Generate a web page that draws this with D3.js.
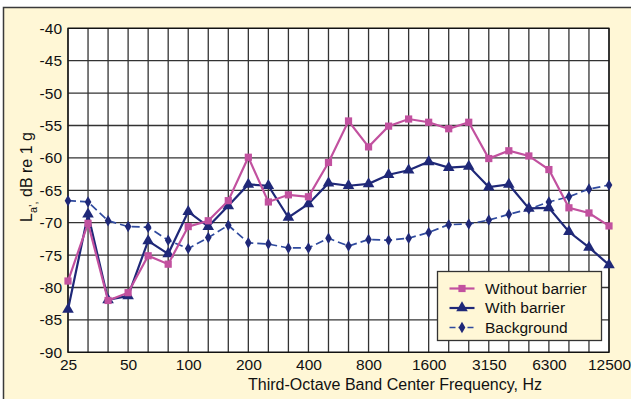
<!DOCTYPE html>
<html>
<head>
<meta charset="utf-8">
<script src="https://cdn.jsdelivr.net/npm/d3@7"></script>
<style>
  body { margin: 0; background: #fff; }
  svg { display: block; font-family: "Liberation Sans", Arial, sans-serif; }
</style>
</head>
<body>
<div id="canvas"></div>
<script>
// third-octave band centres, Hz
var bands = ['25','31.5','40','50','63','80','100','125','160','200','250','315','400','500',
             '630','800','1000','1250','1600','2000','2500','3150','4000','5000','6300','8000','10000','12500'];

// only every third band gets a label
var bandLabels = ['25','50','100','200','400','800','1600','3150','6300','12500'];

var yTicks = [-90,-85,-80,-75,-70,-65,-60,-55,-50,-45,-40];

// La', dB re 1 g
var withoutBarrier = [-79.0,-70.1,-82.0,-80.8,-75.1,-76.4,-70.6,-69.7,-66.6,-59.9,-66.8,-65.7,-66.0,-60.7,
                      -54.3,-58.3,-55.1,-54.0,-54.5,-55.5,-54.5,-60.1,-58.9,-59.7,-61.8,-67.7,-68.5,-70.5];
var withBarrier = [-83.4,-68.7,-81.9,-81.3,-72.8,-74.8,-68.3,-70.6,-67.4,-64.1,-64.3,-69.2,-67.1,-63.9,
                   -64.3,-64.0,-62.6,-61.9,-60.6,-61.5,-61.3,-64.5,-64.1,-67.8,-67.7,-71.4,-73.8,-76.5];
var background = [-66.6,-66.8,-69.7,-70.6,-70.7,-72.7,-74.0,-72.3,-70.4,-73.1,-73.3,-73.9,-73.9,-72.4,
                  -73.6,-72.6,-72.7,-72.4,-71.5,-70.3,-70.2,-69.6,-68.7,-67.9,-66.8,-66.0,-64.8,-64.2];

var W = 631, H = 399;
var plot = {l: 68, t: 28.3, r: 609, b: 352.3};
var cream = '#fff7d6';

var svg = d3.select('#canvas').append('svg')
    .attr('width', W)
    .attr('height', H);

// outer frame of the figure
svg.append('rect')
    .attr('x', 3.5).attr('y', 7.5)
    .attr('width', 700).attr('height', 500)
    .style('fill', cream)
    .style('stroke', '#3a3a3a')
    .style('stroke-width', 1.5);

var x = d3.scalePoint().domain(bands).range([plot.l, plot.r]);
var y = d3.scaleLinear().domain([-90, -40]).range([plot.b, plot.t]);

svg.append('rect')
    .attr('x', plot.l).attr('y', plot.t)
    .attr('width', plot.r - plot.l).attr('height', plot.b - plot.t)
    .style('fill', 'white');

// grid
var grid = svg.append('g').attr('class', 'grid');
bands.forEach(function(b){
    grid.append('line')
        .attr('x1', x(b)).attr('x2', x(b))
        .attr('y1', plot.t).attr('y2', plot.b)
        .style('stroke', '#333').style('stroke-width', 1.3);
});
yTicks.forEach(function(v){
    grid.append('line')
        .attr('x1', plot.l).attr('x2', plot.r)
        .attr('y1', y(v)).attr('y2', y(v))
        .style('stroke', '#333').style('stroke-width', 1.3);
});
svg.append('rect')
    .attr('x', plot.l).attr('y', plot.t)
    .attr('width', plot.r - plot.l).attr('height', plot.b - plot.t)
    .style('fill', 'none').style('stroke', '#111').style('stroke-width', 1.3);

// axes (labels only, grid draws the lines)
var yAxis = svg.append('g')
    .attr('transform', 'translate(' + plot.l + ',0)')
    .call(d3.axisLeft(y).tickValues(yTicks).tickSize(0).tickPadding(6)
        .tickFormat(function(d){ return String(d); }));   // plain hyphen, like the original
var xAxis = svg.append('g')
    .attr('transform', 'translate(0,' + plot.b + ')')
    .call(d3.axisBottom(x).tickValues(bandLabels).tickSize(0).tickPadding(7));
[yAxis, xAxis].forEach(function(a){
    a.select('.domain').remove();
    a.selectAll('text')
        .style('font-family', '"Liberation Sans", Arial, sans-serif')
        .style('font-size', '15.5px')
        .style('fill', '#111');
});

// axis titles
svg.append('text')
    .attr('x', 395)
    .attr('y', 390)
    .attr('text-anchor', 'middle')
    .style('font-size', '16px')
    .style('fill', '#111')
    .text('Third-Octave Band Center Frequency, Hz');

var yTitle = svg.append('text')
    .attr('transform', 'translate(32,177) rotate(-90)')
    .attr('text-anchor', 'middle')
    .style('font-size', '16px')
    .style('fill', '#111');
yTitle.append('tspan').text('L');
yTitle.append('tspan').attr('dy', 5).style('font-size', '11px').text('a\u2019,');
yTitle.append('tspan').attr('dy', -5).text(' dB re 1 g');

// series
var series = [
    {name: 'Without barrier', values: withoutBarrier, color: '#c2519f', dash: null, width: 2.2,
     symbol: d3.symbolSquare, size: 52},
    {name: 'With barrier', values: withBarrier, color: '#1f2878', dash: null, width: 2.2,
     symbol: d3.symbolTriangle, size: 58},
    {name: 'Background', values: background, color: '#2f4a9e', dash: '8,4', width: 1.7,
     symbol: d3.symbolDiamond, size: 38}
];

var line = d3.line()
    .x(function(d, i){ return x(bands[i]); })
    .y(function(d){ return y(d); });

series.slice().reverse().forEach(function(s){
    svg.append('path')
        .datum(s.values)
        .attr('d', line)
        .style('fill', 'none')
        .style('stroke', s.color)
        .style('stroke-width', s.width)
        .style('stroke-dasharray', s.dash);
    var mc = s.name === 'Background' ? '#1f2878' : s.color;
    s.values.forEach(function(v, i){
        svg.append('path')
            .attr('d', d3.symbol().type(s.symbol).size(s.size)())
            .attr('transform', 'translate(' + x(bands[i]) + ',' + y(v) + ')')
            .style('fill', mc);
    });
});

// legend
var legend = svg.append('g').attr('transform', 'translate(437.5,271.5)');
legend.append('rect')
    .attr('width', 164).attr('height', 69)
    .style('fill', cream)
    .style('stroke', '#333')
    .style('stroke-width', 1.3);
series.forEach(function(s, i){
    var ry = 17 + i * 19.5;
    legend.append('line')
        .attr('x1', 12).attr('x2', 37)
        .attr('y1', ry).attr('y2', ry)
        .style('stroke', s.color)
        .style('stroke-width', s.width)
        .style('stroke-dasharray', s.dash ? '6,3' : null);
    legend.append('path')
        .attr('d', d3.symbol().type(s.symbol).size(s.size)())
        .attr('transform', 'translate(24.5,' + ry + ')')
        .style('fill', s.name === 'Background' ? '#1f2878' : s.color);
    legend.append('text')
        .attr('x', 47.5).attr('y', ry)
        .attr('dy', '0.35em')
        .style('font-size', '15.5px')
        .style('fill', '#111')
        .text(s.name);
});
</script>
</body>
</html>
